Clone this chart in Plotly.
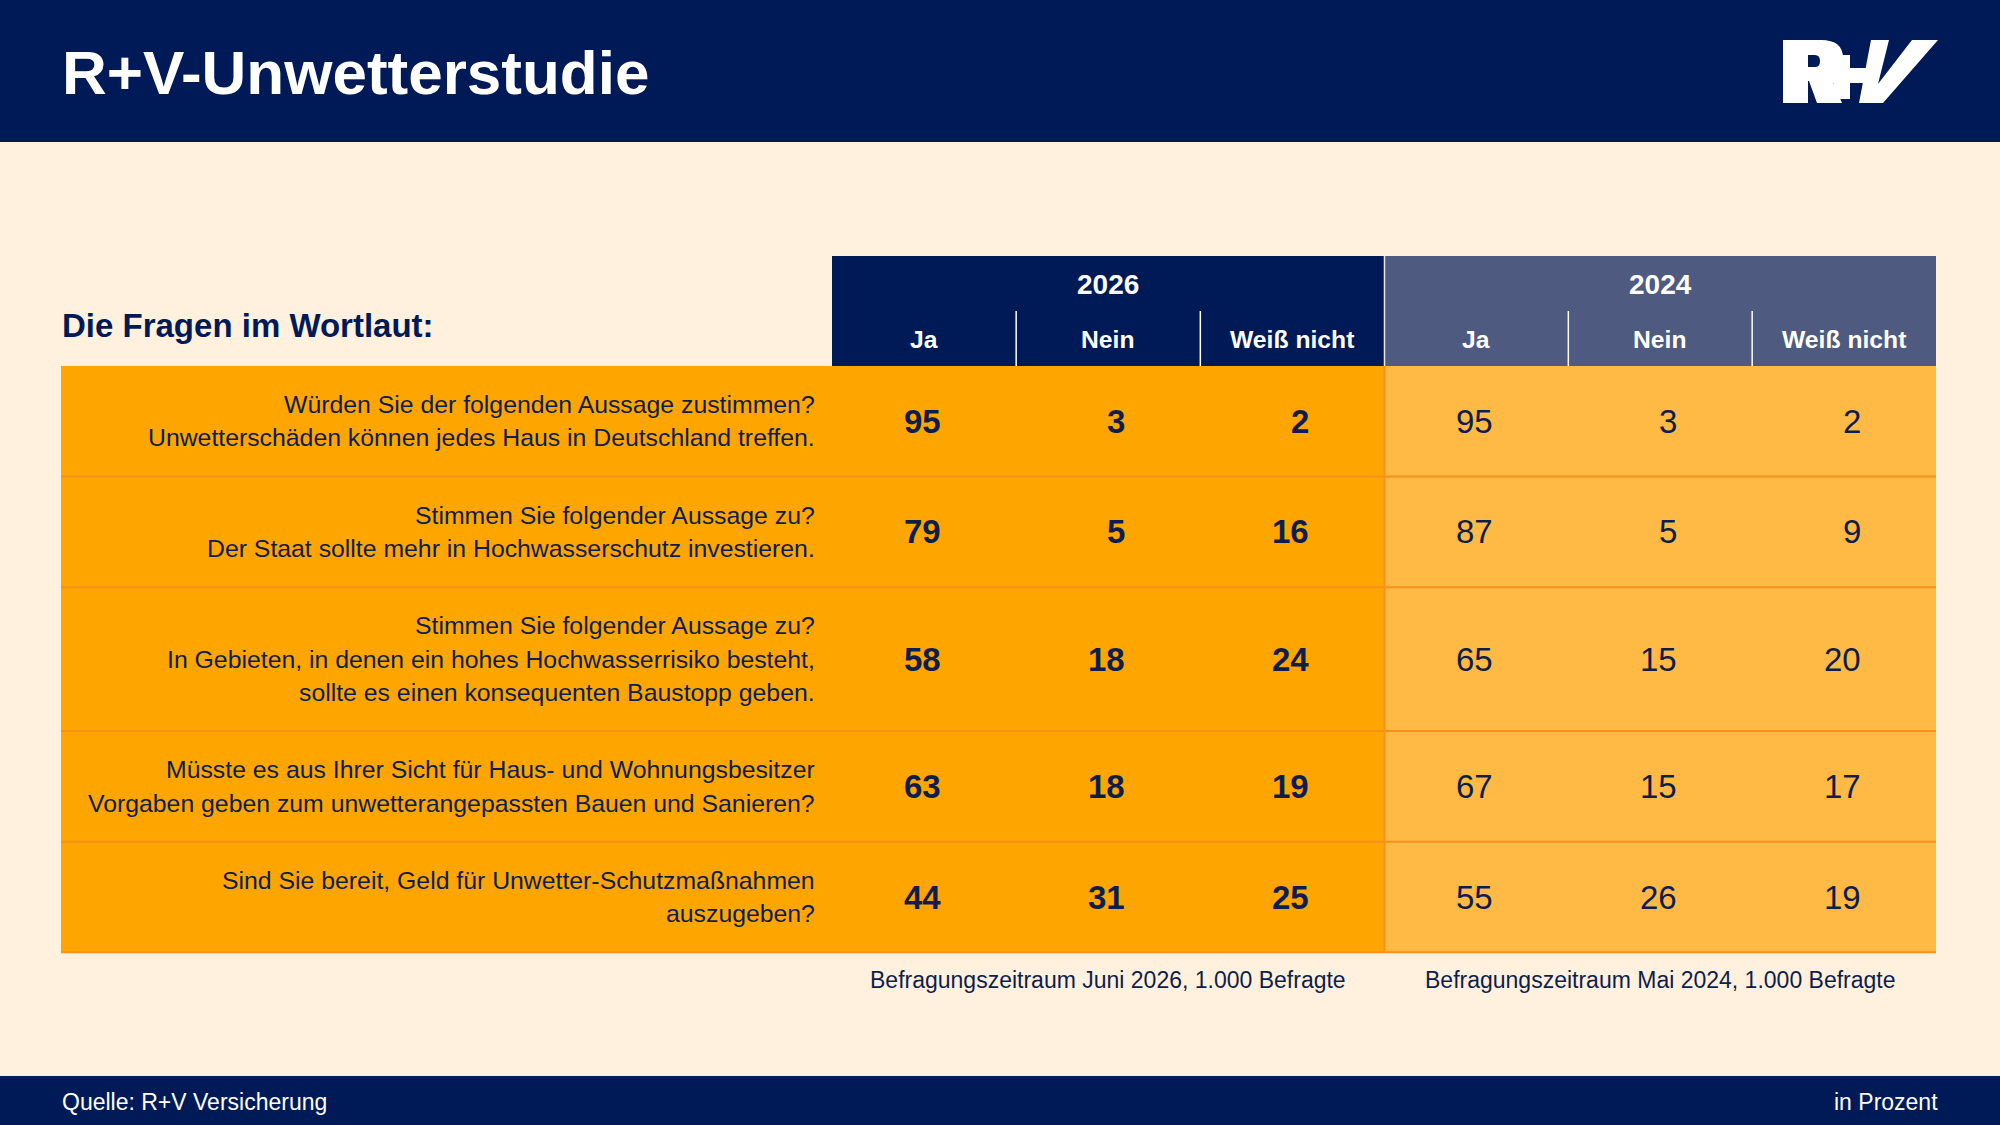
import plotly.graph_objects as go

# --- data ---------------------------------------------------------------
TITLE = "R+V-Unwetterstudie"
SUBTITLE = "Die Fragen im Wortlaut:"
YEARS = ["2026", "2024"]
ANSWERS = ["Ja", "Nein", "Weiß nicht"]
QUESTIONS = [
    "Würden Sie der folgenden Aussage zustimmen?<br>Unwetterschäden können jedes Haus in Deutschland treffen.",
    "Stimmen Sie folgender Aussage zu?<br>Der Staat sollte mehr in Hochwasserschutz investieren.",
    "Stimmen Sie folgender Aussage zu?<br>In Gebieten, in denen ein hohes Hochwasserrisiko besteht,<br>sollte es einen konsequenten Baustopp geben.",
    "Müsste es aus Ihrer Sicht für Haus- und Wohnungsbesitzer<br>Vorgaben geben zum unwetterangepassten Bauen und Sanieren?",
    "Sind Sie bereit, Geld für Unwetter-Schutzmaßnahmen<br>auszugeben?",
]
VALUES_2026 = [[95, 3, 2], [79, 5, 16], [58, 18, 24], [63, 18, 19], [44, 31, 25]]
VALUES_2024 = [[95, 3, 2], [87, 5, 9], [65, 15, 20], [67, 15, 17], [55, 26, 19]]
NOTES = [
    "Befragungszeitraum Juni 2026, 1.000 Befragte",
    "Befragungszeitraum Mai 2024, 1.000 Befragte",
]
SOURCE = "Quelle: R+V Versicherung"
UNIT = "in Prozent"

# --- layout / style ------------------------------------------------------
W, H = 2000, 1125
FONT = "Liberation Sans, Arial, sans-serif"
NAVY = "#001A57"
SLATE = "#4E5A7F"
CREAM = "#FFF1DE"
ORANGE = "#FFA500"
ORANGE_LIGHT = "#FFB945"
RULE = "#F7911E"
INK = "#0E1E4C"

LEFT, RIGHT = 61, 1936
BLOCK_X = [832, 1384.5, 1936]
HEAD_TOP, SUB_TOP, HEAD_BOT = 256, 311, 366
LINE_H, ROW_PAD = 33.3, 44
BAND_H, FOOT_TOP = 142, 1076
Q_RIGHT = 816

# rough outline of the R+V word mark
LOGO_PATHS = [
    # R with counter
    "M 1783,40 L 1821,40 Q 1843,40 1843,58 Q 1843,72 1831,77 L 1842,103 L 1817,103 "
    "L 1809,81 L 1808,81 L 1808,103 L 1783,103 Z "
    "M 1808,55 L 1808,67 L 1815,67 Q 1820,67 1820,61 Q 1820,55 1815,55 Z",
    # plus
    "M 1834,55 L 1850,55 L 1850,68 L 1868,68 L 1868,83 L 1850,83 L 1850,99 "
    "L 1834,99 L 1834,83 L 1824,83 L 1824,68 L 1834,68 Z",
    # V
    "M 1871,40 L 1889,40 L 1878,84 L 1912,40 L 1938,40 L 1883,103 L 1859,103 Z",
]

shapes = []
annotations = []


def rect(x0, y0, x1, y1, color):
    shapes.append(dict(type="rect", xref="x", yref="y", x0=x0, y0=y0, x1=x1, y1=y1,
                       fillcolor=color, line=dict(width=0), layer="below"))


def rule(x0, y0, x1, y1, color, width):
    shapes.append(dict(type="line", xref="x", yref="y", x0=x0, y0=y0, x1=x1, y1=y1,
                       line=dict(color=color, width=width)))


def label(x, y, text, size, color, anchor="center", bold=False):
    annotations.append(dict(xref="x", yref="y", x=x, y=y, text=text, showarrow=False,
                            xanchor=anchor, yanchor="middle", borderpad=0,
                            font=dict(family=FONT, size=size, color=color,
                                      weight="bold" if bold else "normal")))


# top and bottom bands
rect(0, 0, W, BAND_H, NAVY)
rect(0, FOOT_TOP, W, H, NAVY)
label(LEFT, 72, TITLE, 62, "white", "left", bold=True)
for p in LOGO_PATHS:
    shapes.append(dict(type="path", xref="x", yref="y", path=p,
                       fillcolor="white", line=dict(width=0)))
label(LEFT, 1102, SOURCE, 23, "white", "left")
label(1939, 1102, UNIT, 23, "white", "right")

label(LEFT, 325, SUBTITLE, 33, NAVY, "left", bold=True)

# row geometry from the number of text lines
line_counts = [q.count("<br>") + 1 for q in QUESTIONS]
row_edges = [HEAD_BOT]
for n in line_counts:
    row_edges.append(row_edges[-1] + ROW_PAD + LINE_H * n)
table_bot = row_edges[-1]

# header blocks
head_colors = [NAVY, SLATE]
body_colors = [ORANGE, ORANGE_LIGHT]
for b, year in enumerate(YEARS):
    x0, x1 = BLOCK_X[b], BLOCK_X[b + 1]
    col_w = (x1 - x0) / len(ANSWERS)
    rect(x0, HEAD_TOP, x1, HEAD_BOT, head_colors[b])
    label((x0 + x1) / 2, 284, year, 28, "white", bold=True)
    for c, ans in enumerate(ANSWERS):
        label(x0 + col_w * (c + 0.5), 339, ans, 24.7, "white", bold=True)
        if c > 0:
            rule(x0 + col_w * c, SUB_TOP, x0 + col_w * c, HEAD_BOT, "white", 1.5)

# body backgrounds
rect(LEFT, HEAD_BOT, BLOCK_X[1], table_bot, body_colors[0])
rect(BLOCK_X[1], HEAD_BOT, RIGHT, table_bot, body_colors[1])
rule(BLOCK_X[1], HEAD_TOP, BLOCK_X[1], HEAD_BOT, "#E8E8EE", 1.5)
rule(BLOCK_X[1], HEAD_BOT, BLOCK_X[1], table_bot, RULE, 2)
for y in row_edges[1:]:
    rule(LEFT, y, RIGHT, y, RULE, 2)

# question texts and values
for r, q in enumerate(QUESTIONS):
    yc = (row_edges[r] + row_edges[r + 1]) / 2
    lines = q.split("<br>")
    for i, ln in enumerate(lines):
        label(Q_RIGHT, yc + (i - (len(lines) - 1) / 2) * LINE_H, ln, 24.8, INK, "right")
    for b, vals in enumerate([VALUES_2026, VALUES_2024]):
        x0, x1 = BLOCK_X[b], BLOCK_X[b + 1]
        col_w = (x1 - x0) / len(ANSWERS)
        for c, v in enumerate(vals[r]):
            label(x0 + col_w * (c + 0.5) + 18, yc, str(v), 33, INK, "right", bold=(b == 0))

# survey notes
for b, note in enumerate(NOTES):
    label((BLOCK_X[b] + BLOCK_X[b + 1]) / 2, 980, note, 23, INK)

fig = go.Figure()
fig.add_trace(go.Scatter(x=[0, W], y=[0, H], mode="markers",
                         marker=dict(opacity=0), hoverinfo="skip", showlegend=False))
fig.update_layout(
    width=W, height=H,
    margin=dict(l=0, r=0, t=0, b=0),
    paper_bgcolor=CREAM, plot_bgcolor=CREAM,
    shapes=shapes, annotations=annotations,
    xaxis=dict(range=[0, W], visible=False, fixedrange=True),
    yaxis=dict(range=[H, 0], visible=False, fixedrange=True),
    showlegend=False,
)
fig.write_html("out.html", config={"displayModeBar": False},
               post_script="document.body.style.margin='0';")
